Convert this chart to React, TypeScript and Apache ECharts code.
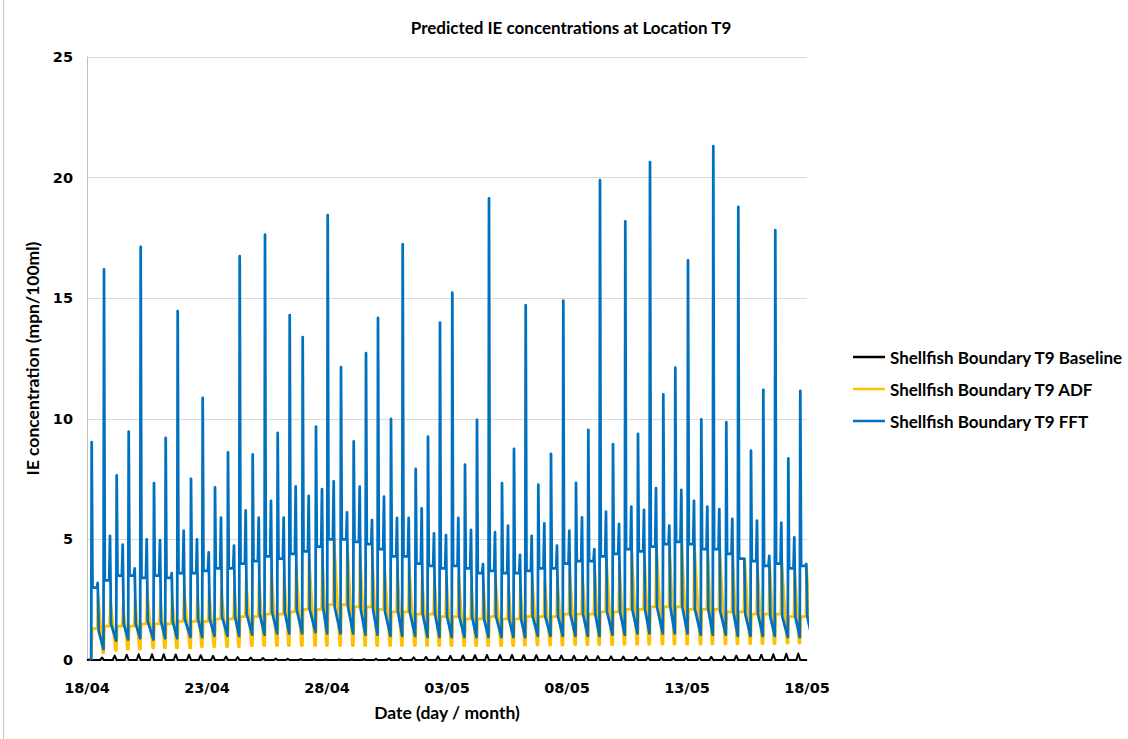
import React, { useEffect, useRef } from "react";
import * as echarts from "echarts";

// Hours from 18/04 00:00 at which each tidal cycle's main spike occurs
const peakHour = [4.7, 17, 29.7, 41.7, 53.7, 67, 78.7, 90.7, 104, 115.7, 128, 141, 152.7, 165.7, 178, 190.7, 202.7, 215.7, 229, 240.7, 254, 266.7, 279, 291, 304, 315.7, 328.7, 341, 353, 365.3, 378, 390, 402, 415, 427, 438.7, 451.3, 464, 476.3, 489, 501.3, 513, 526, 538.3, 551, 563, 576.3, 588.3, 601, 614.3, 626.3, 639.3, 651.3, 664, 676.3, 688.3, 701.3, 713.3];

// FFT (blue)
const fftPeak = [9.03, 16.19, 7.65, 9.47, 17.13, 7.33, 9.21, 14.46, 7.51, 10.87, 7.16, 8.61, 16.74, 8.53, 17.64, 9.42, 14.3, 13.39, 9.68, 18.44, 12.14, 9.06, 12.72, 14.18, 10.0, 17.24, 7.92, 9.26, 13.99, 15.23, 8.1, 9.96, 19.14, 7.33, 8.75, 14.71, 7.27, 8.55, 14.9, 7.34, 9.54, 19.9, 8.95, 18.19, 9.38, 20.64, 11.01, 12.12, 16.57, 9.98, 21.31, 9.86, 18.79, 8.68, 11.2, 17.82, 8.36, 11.16];
const fftPlateau = [3.0, 3.3, 3.5, 3.5, 3.4, 3.5, 3.4, 3.6, 3.6, 3.7, 3.8, 3.8, 4.0, 4.1, 4.3, 4.2, 4.4, 4.5, 4.7, 5.0, 5.0, 4.9, 4.8, 4.6, 4.3, 4.3, 4.0, 3.9, 3.8, 3.9, 3.8, 3.6, 3.7, 3.6, 3.6, 3.7, 3.8, 3.8, 4.0, 4.1, 4.1, 4.3, 4.4, 4.6, 4.5, 4.7, 4.8, 4.9, 4.8, 4.6, 4.6, 4.4, 4.2, 4.1, 3.9, 4.0, 3.8, 3.9];
const fftSecond = [3.2, 5.15, 4.78, 3.8, 5.0, 4.97, 3.6, 5.36, 5.0, 4.46, 5.9, 4.74, 6.2, 5.9, 6.6, 5.9, 7.2, 6.8, 7.08, 7.41, 6.12, 7.19, 5.8, 6.77, 5.89, 5.89, 6.29, 5.25, 5.18, 5.89, 5.39, 3.98, 5.3, 5.57, 4.36, 5.15, 5.66, 4.74, 5.36, 5.91, 4.6, 6.15, 5.64, 6.36, 6.22, 7.13, 5.57, 7.05, 6.6, 6.36, 6.26, 5.85, 4.19, 5.78, 4.32, 5.7, 5.08, 3.98];
const fftShoulder = [1.2, 1.5, 1.5, 1.5, 1.6, 1.6, 1.6, 1.7, 1.7, 1.7, 1.8, 1.8, 1.9, 1.9, 2.0, 2.0, 2.1, 2.1, 2.2, 2.2, 2.2, 2.1, 2.1, 2.0, 2.0, 2.0, 1.9, 1.9, 1.8, 1.8, 1.8, 1.7, 1.8, 1.7, 1.7, 1.8, 1.8, 1.8, 1.9, 1.9, 1.9, 2.0, 2.0, 2.1, 2.1, 2.2, 2.2, 2.2, 2.1, 2.1, 2.0, 2.0, 1.9, 1.9, 1.8, 1.8, 1.8, 1.8];
const fftTrough = [0.45, 0.8, 0.85, 0.9, 0.85, 0.9, 0.9, 0.95, 0.95, 1.0, 1.0, 1.0, 1.05, 1.05, 1.1, 1.1, 1.1, 1.15, 1.1, 1.1, 1.1, 1.05, 1.05, 1.0, 1.0, 1.0, 0.95, 0.95, 0.95, 0.95, 0.95, 0.95, 0.95, 0.95, 0.95, 1.0, 1.0, 1.0, 1.0, 1.0, 1.0, 1.05, 1.05, 1.1, 1.1, 1.1, 1.1, 1.1, 1.05, 1.05, 1.05, 1.0, 1.0, 1.0, 1.0, 0.95, 0.95, 0.95];

// ADF (yellow)
const adfPeak = [2.7, 2.5, 2.3, 2.5, 2.8, 2.5, 2.6, 2.9, 2.7, 2.9, 2.9, 3.0, 3.3, 3.3, 3.6, 3.6, 3.9, 4.2, 4.2, 5.0, 4.8, 4.4, 4.2, 4.0, 3.8, 3.9, 3.4, 3.4, 3.4, 3.5, 3.1, 3.1, 3.4, 3.1, 3.1, 3.4, 3.3, 3.4, 3.7, 3.6, 3.8, 4.2, 4.0, 4.5, 4.3, 4.8, 4.6, 4.8, 4.8, 4.4, 4.6, 4.2, 4.2, 3.9, 4.0, 4.1, 3.7, 3.8];
const adfPlateau = [1.3, 1.4, 1.4, 1.4, 1.5, 1.5, 1.5, 1.6, 1.6, 1.6, 1.7, 1.7, 1.8, 1.8, 1.9, 1.9, 2.0, 2.1, 2.1, 2.3, 2.3, 2.2, 2.2, 2.1, 2.0, 2.0, 1.9, 1.9, 1.8, 1.8, 1.7, 1.7, 1.8, 1.7, 1.7, 1.8, 1.8, 1.8, 1.9, 1.9, 1.9, 2.0, 2.0, 2.1, 2.1, 2.2, 2.2, 2.2, 2.1, 2.1, 2.1, 2.0, 2.0, 1.9, 1.9, 1.9, 1.8, 1.8];
const adfTrough = [0.3, 0.4, 0.45, 0.45, 0.5, 0.5, 0.5, 0.5, 0.55, 0.55, 0.55, 0.55, 0.6, 0.6, 0.6, 0.6, 0.6, 0.6, 0.6, 0.6, 0.6, 0.6, 0.6, 0.6, 0.6, 0.6, 0.6, 0.6, 0.6, 0.6, 0.6, 0.6, 0.6, 0.6, 0.62, 0.62, 0.62, 0.62, 0.64, 0.64, 0.64, 0.64, 0.65, 0.65, 0.65, 0.66, 0.66, 0.66, 0.66, 0.67, 0.67, 0.67, 0.68, 0.68, 0.68, 0.7, 0.7, 0.7];

// Baseline (black) small tidal bumps
const baselinePeak = [0.02, 0.1, 0.18, 0.22, 0.24, 0.24, 0.24, 0.23, 0.22, 0.2, 0.17, 0.14, 0.12, 0.1, 0.08, 0.06, 0.05, 0.04, 0.03, 0.02, 0.02, 0.02, 0.03, 0.05, 0.07, 0.09, 0.11, 0.13, 0.15, 0.17, 0.19, 0.2, 0.21, 0.21, 0.21, 0.2, 0.2, 0.19, 0.18, 0.17, 0.16, 0.16, 0.15, 0.14, 0.13, 0.11, 0.1, 0.09, 0.1, 0.11, 0.13, 0.15, 0.18, 0.2, 0.22, 0.24, 0.26, 0.27];

const tickLabels = ["18/04", "23/04", "28/04", "03/05", "08/05", "13/05", "18/05"];
const seriesNames = ["Shellfish Boundary T9 Baseline", "Shellfish Boundary T9 ADF", "Shellfish Boundary T9 FFT"];

function nextStart(k: number, fallback: number) {
  return k + 1 < peakHour.length ? peakHour[k + 1] - 0.5 : peakHour[k] + fallback;
}

function buildFFT() {
  const pts: number[][] = [[4.2, 0]];
  for (let k = 0; k < peakHour.length; k++) {
    const P = peakHour[k];
    if (k > 0) pts.push([P - 0.4, fftTrough[k - 1]]);
    pts.push([P, fftPeak[k]]);
    pts.push([P + 0.8, fftPlateau[k]]);
    pts.push([P + 5.2, fftPlateau[k]]);
    pts.push([P + 6, fftSecond[k]]);
    pts.push([P + 7, fftShoulder[k]]);
    pts.push([nextStart(k, 11.5), fftTrough[k]]);
  }
  return pts;
}

function buildADF() {
  const pts: number[][] = [[4.2, 0]];
  for (let k = 0; k < peakHour.length; k++) {
    const P = peakHour[k];
    if (k > 0) pts.push([P - 0.3, adfTrough[k - 1]]);
    pts.push([P + 0.5, adfPlateau[k]]);
    pts.push([P + 5.6, adfPlateau[k]]);
    pts.push([P + 6.4, adfPeak[k]]);
    pts.push([nextStart(k, 11.5) - 0.8, adfTrough[k]]);
  }
  return pts;
}

function buildBaseline() {
  const pts: number[][] = [[0, 0]];
  for (let k = 0; k < peakHour.length; k++) {
    const P = peakHour[k];
    pts.push([P - 4, 0]);
    pts.push([P - 2, baselinePeak[k]]);
    pts.push([P, 0]);
  }
  pts.push([720, 0]);
  return pts;
}

export default function App() {
  const ref = useRef<HTMLDivElement>(null);
  useEffect(() => {
    if (!ref.current) return;
    const chart = echarts.init(ref.current, null, { renderer: "svg" });
    const font = "Lato, 'Open Sans', sans-serif";
    chart.setOption({
      animation: false,
      backgroundColor: "#ffffff",
      graphic: [
        {
          type: "text",
          x: 571,
          y: 27,
          style: {
            text: "Predicted IE concentrations at Location T9",
            textAlign: "center",
            textVerticalAlign: "middle",
            fontFamily: font,
            fontWeight: "bold",
            fontSize: 17,
            fill: "#000000",
          },
        },
        {
          type: "line",
          shape: { x1: 3.5, y1: 0, x2: 3.5, y2: 739 },
          style: { stroke: "#c8c8c8", lineWidth: 1 },
        },
      ],
      legend: {
        orient: "vertical",
        left: 853,
        top: 347,
        padding: 0,
        itemWidth: 32,
        itemHeight: 2.5,
        itemGap: 12,
        icon: "rect",
        data: seriesNames,
        textStyle: { fontFamily: font, fontWeight: "bold", fontSize: 17, color: "#000", lineHeight: 20, overflow: "none" },
      },
      grid: { left: 87, right: 321, top: 57, bottom: 79, containLabel: false },
      xAxis: {
        type: "value",
        min: 0,
        max: 720,
        interval: 120,
        name: "Date (day / month)",
        nameLocation: "middle",
        nameGap: 43,
        nameTextStyle: { fontFamily: font, fontWeight: "bold", fontSize: 17.5, color: "#000" },
        axisLine: { show: true, lineStyle: { color: "#bfbfbf", width: 1 } },
        axisTick: { show: false },
        splitLine: { show: false },
        axisLabel: {
          margin: 20,
          fontFamily: "'DejaVu Sans', Verdana, sans-serif",
          fontWeight: "bold",
          fontSize: 14.5,
          color: "#000",
          formatter: (v: number) => tickLabels[Math.round(v / 120)] ?? "",
        },
      },
      yAxis: {
        type: "value",
        min: 0,
        max: 25,
        interval: 5,
        name: "IE concentration (mpn/100ml)",
        nameLocation: "middle",
        nameGap: 43,
        nameTextStyle: { fontFamily: font, fontWeight: "bold", fontSize: 17.5, color: "#000" },
        axisLine: { show: true, lineStyle: { color: "#bfbfbf", width: 1 } },
        axisTick: { show: false },
        splitLine: { show: true, lineStyle: { color: "#d9d9d9", width: 1 } },
        axisLabel: {
          margin: 14,
          fontFamily: "'DejaVu Sans', Verdana, sans-serif",
          fontWeight: "bold",
          fontSize: 14.5,
          color: "#000",
        },
      },
      series: [
        {
          name: seriesNames[0],
          type: "line",
          data: buildBaseline(),
          showSymbol: false,
          color: "#000000",
          lineStyle: { width: 2, color: "#000000", join: "round" },
          clip: true,
        },
        {
          name: seriesNames[1],
          type: "line",
          data: buildADF(),
          showSymbol: false,
          color: "#FFC000",
          lineStyle: { width: 2.75, color: "#FFC000", join: "round" },
          clip: true,
        },
        {
          name: seriesNames[2],
          type: "line",
          data: buildFFT(),
          showSymbol: false,
          color: "#0070C0",
          lineStyle: { width: 2.75, color: "#0070C0", join: "round" },
          clip: true,
        },
      ],
    });
    return () => chart.dispose();
  }, []);
  return <div ref={ref} style={{ position: "fixed", left: 0, top: 0, width: 1128, height: 739 }} />;
}
